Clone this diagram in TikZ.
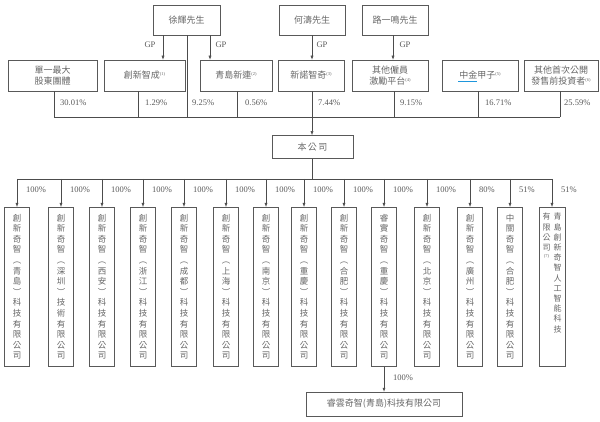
\documentclass[tikz,border=0pt]{standalone}
\usepackage{fontspec}
\setmainfont{Liberation Serif}
\newfontfamily\cjk{Noto Sans CJK TC}
\usetikzlibrary{arrows.meta,calc}
\definecolor{ulblue}{RGB}{30,150,220}
\makeatletter
\def\vsA#1#2\relax{#1\vsB#2\relax}
\def\vsB#1{\ifx#1\relax\else\\#1\expandafter\vsB\fi}
\newcommand\vtext[1]{\vsA#1\relax}
\makeatother
\newcommand\nt[1]{\raisebox{0.7ex}{\rmfamily\fontsize{4.5}{5}\selectfont(#1)}}
\begin{document}
\begin{tikzpicture}[x=1pt,y=-1pt,
  box/.style={draw=black!65, line width=0.5pt, font=\cjk\fontsize{9}{11.5}\selectfont, text=black!60, inner sep=0pt, align=center},
  vbox/.style={draw=black!65, line width=0.5pt, font=\cjk\fontsize{8.5}{10.6}\selectfont, text=black!60, inner sep=0pt, align=center, minimum width=25pt, minimum height=159pt, anchor=north},
  vcol/.style={font=\cjk\fontsize{8}{10.2}\selectfont, text=black!60, inner sep=0pt, align=center, anchor=north},
  pct/.style={font=\fontsize{8.5}{10}\selectfont, text=black!65, inner sep=0pt, anchor=west},
  conn/.style={draw=black!70, line width=0.5pt},
  arr/.style={conn, -{Latex[length=4pt,width=3pt]}}]
\useasboundingbox (0,0) rectangle (600,422);
% top persons
\node[box, minimum width=67pt, minimum height=30pt] (xu) at (186.5,20) {徐輝先生};
\node[box, minimum width=66pt, minimum height=30pt] (he) at (312,20) {何濤先生};
\node[box, minimum width=66pt, minimum height=30pt] (lu) at (395,20) {路一鳴先生};
% middle shareholders
\node[box, minimum width=89pt, minimum height=31pt] (sh) at (52.5,75.5) {單一最大\\股東團體};
\node[box, minimum width=81pt, minimum height=31pt] (cx) at (144.5,75.5) {創新智成\nt{1}};
\node[box, minimum width=72pt, minimum height=31pt] (qd) at (236,75.5) {青島新連\nt{2}};
\node[box, minimum width=66pt, minimum height=31pt] (xn) at (311,75.5) {新諾智奇\nt{3}};
\node[box, minimum width=76pt, minimum height=31pt] (qt) at (390,75.5) {其他僱員\\激勵平台\nt{4}};
\node[box, minimum width=76pt, minimum height=31pt] (zj) at (480,75.5) {中金甲子\nt{5}};
\node[box, minimum width=74pt, minimum height=31pt] (qs) at (561,75.5) {其他首次公開\\發售前投資者\nt{6}};
\draw[draw=ulblue, line width=0.8pt] ($(zj.center)+(-22,6)$) -- ++(19,0);
% GP arrows
\coordinate (g1) at (163,0);
\coordinate (g2) at (210,0);
\coordinate (g4) at (393,0);
\draw[arr] (xu.south -| g1) -- (cx.north -| g1);
\draw[arr] (xu.south -| g2) -- (qd.north -| g2);
\draw[arr] (he.south) -- (xn.north -| he.south);
\draw[arr] (lu.south -| g4) -- (qt.north -| g4);
\node[pct, anchor=center] (gp1) at (150,45) {GP};
\node[pct, anchor=center] (gp2) at (221,45) {GP};
\node[pct, anchor=center] (gp3) at (322,45) {GP};
\node[pct, anchor=center] (gp4) at (405,45) {GP};
% bus to company
\coordinate (b1) at (54,117);
\coordinate (b2) at (138,117);
\coordinate (b3) at (187,117);
\coordinate (b4) at (237,117);
\coordinate (b5) at (312,117);
\coordinate (b6) at (394,117);
\coordinate (b7) at (478,117);
\coordinate (b8) at (560,117);
\draw[conn] (sh.south -| b1) -- (b1);
\draw[conn] (cx.south -| b2) -- (b2);
\draw[conn] (xu.south -| b3) -- (b3);
\draw[conn] (qd.south -| b4) -- (b4);
\draw[conn] (xn.south -| b5) -- (b5);
\draw[conn] (qt.south -| b6) -- (b6);
\draw[conn] (zj.south -| b7) -- (b7);
\draw[conn] (qs.south -| b8) -- (b8);
\draw[conn] (b1) -- (b8);
\node[pct] (p1) at (60,103) {30.01\%};
\node[pct] (p2) at (145,103) {1.29\%};
\node[pct] (p3) at (192,103) {9.25\%};
\node[pct] (p4) at (245,103) {0.56\%};
\node[pct] (p5) at (318,103) {7.44\%};
\node[pct] (p6) at (400,103) {9.15\%};
\node[pct] (p7) at (485,103) {16.71\%};
\node[pct] (p8) at (564,103) {25.59\%};
% company
\node[box, minimum width=81pt, minimum height=23pt] (bg) at (312.5,147) {本\,公\,司};
\draw[arr] (b5) -- (b5 |- bg.north);
\coordinate (m) at (312,179);
\draw[conn] (b5 |- bg.south) -- (m);
% subsidiaries
\coordinate (s1a) at (17,179);
\coordinate (s14a) at (552,179);
\draw[conn] (s1a) -- (s14a);
\foreach \i/\x/\t/\p in {
 1/17/創新奇智︵青島︶科技有限公司/100,
 2/61/創新奇智︵深圳︶技術有限公司/100,
 3/102/創新奇智︵西安︶科技有限公司/100,
 4/143/創新奇智︵浙江︶科技有限公司/100,
 5/184/創新奇智︵成都︶科技有限公司/100,
 6/226/創新奇智︵上海︶科技有限公司/100,
 7/266/創新奇智︵南京︶科技有限公司/100,
 8/304/創新奇智︵重慶︶科技有限公司/100,
 9/344/創新奇智︵合肥︶科技有限公司/100,
 10/384/睿實奇智︵重慶︶科技有限公司/100,
 11/427/創新奇智︵北京︶科技有限公司/100,
 12/470/創新奇智︵廣州︶科技有限公司/80,
 13/510/中關奇智︵合肥︶科技有限公司/51}{
  \node[vbox] (s\i) at (\x,207) {\expandafter\vtext\expandafter{\t}};
  \draw[arr] (\x,179) -- (s\i.north);
  \node[pct] (l\i) at (\x+9,190) {\p\%};
}
\node[vbox, minimum width=26pt] (s14) at (552,207) {};
\node[vcol] (s14r) at ($(s14.north)+(5.5,6)$) {\vtext{青島創新奇智人工智能科技}};
\node[vcol] (s14l) at ($(s14.north)+(-5.5,6)$) {\vtext{有限公司}\\\nt{7}};
\draw[arr] (s14a) -- (s14.north);
\node[pct] (l14) at (561,190) {51\%};
% bottom
\node[box, minimum width=156pt, minimum height=24pt] (ry) at (384,404) {睿雲奇智(青島)科技有限公司};
\draw[arr] (s10.south) -- (ry.north -| s10.south);
\node[pct] (l15) at (393,378) {100\%};
\end{tikzpicture}
\end{document}
